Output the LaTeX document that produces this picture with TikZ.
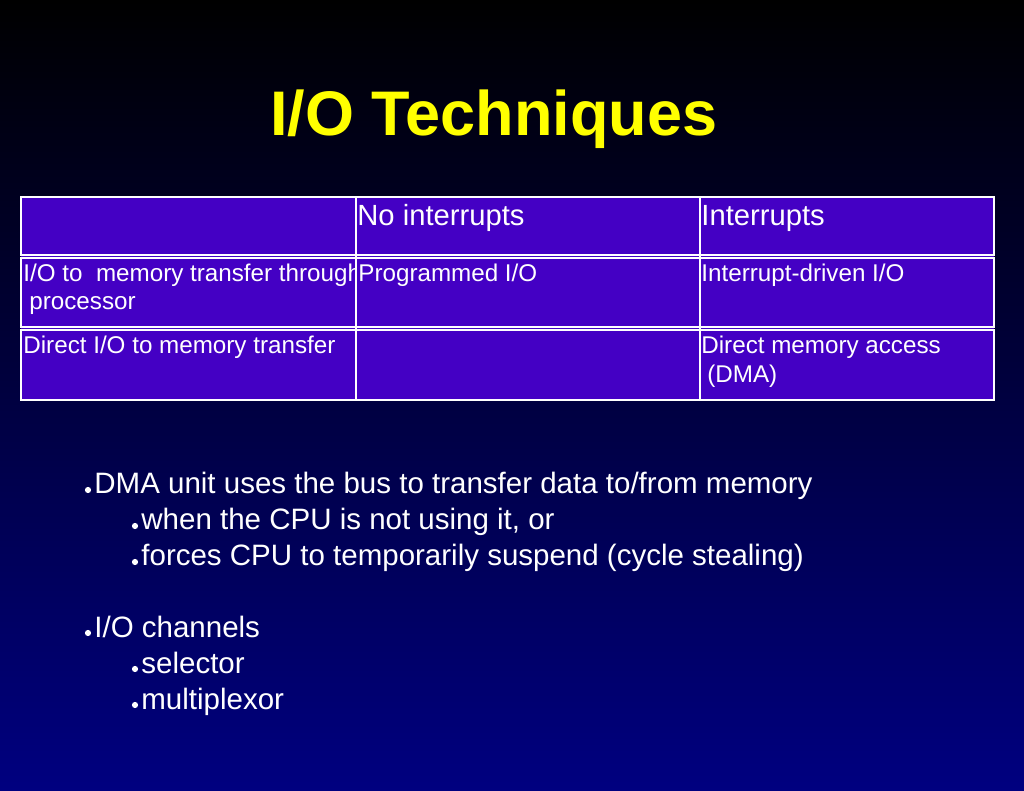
\documentclass[tikz,border=0pt]{standalone}
\usepackage{fontspec}
\setmainfont{Liberation Sans}
\definecolor{navybg}{RGB}{0,0,128}
\definecolor{cellfill}{RGB}{68,0,196}
\definecolor{titleyellow}{RGB}{255,255,0}
\begin{document}
\begin{tikzpicture}[x=0.5pt,y=-0.5pt,
  txt/.style={anchor=base west, inner sep=0pt, text=white, font=\fontsize{12.1}{14}\selectfont},
  hdr/.style={txt, font=\fontsize{14.6}{17}\selectfont},
  bul/.style={txt, font=\fontsize{14.75}{17}\selectfont},
  gridline/.style={draw=white, line width=1pt},
  bdot/.style={circle, fill=white, inner sep=0pt, minimum size=3.1pt}]
\useasboundingbox (0,0) rectangle (1024,791);
\shade[top color=black, bottom color=navybg] (0,0) rectangle (1024,791);

% title
\node[anchor=base west, inner sep=0pt, text=titleyellow,
      font=\fontsize{31.5}{36}\selectfont\bfseries] (title) at (270,136) {I/O Techniques};

% table
\fill[cellfill] (21,197) rectangle (994,400);

\node[hdr] (h1) at (357,226) {No interrupts};
\node[hdr] (h2) at (701,226) {Interrupts};

\begin{scope}
  \clip (21,258) rectangle (355,327);
  \node[txt] (r2a) at (23,282) {I/O to\ \ memory transfer through};
\end{scope}
\node[txt] (r2b) at (29,310) {processor};
\node[txt] (r2c) at (358,282) {Programmed I/O};
\node[txt] (r2d) at (701,282) {Interrupt-driven I/O};

\node[txt] (r3a) at (23,354) {Direct I/O to memory transfer};
\node[txt] (r3b) at (701,354) {Direct memory access};
\node[txt] (r3c) at (707,383) {(DMA)};

\draw[gridline] (21,197) rectangle (994,255);
\draw[gridline] (21,258) rectangle (994,327);
\draw[gridline] (21,330) rectangle (994,400);
\draw[gridline] (356,197) -- (356,400);
\draw[gridline] (700,197) -- (700,400);

% bullets
\node[bdot] (d1) at (88,490) {};
\node[bul] (b1) at (94,494) {DMA unit uses the bus to transfer data to/from memory};
\node[bdot] (d2) at (135,526) {};
\node[bul] (b2) at (141,530) {when the CPU is not using it, or};
\node[bdot] (d3) at (135,562) {};
\node[bul] (b3) at (141,566) {forces CPU to temporarily suspend (cycle stealing)};
\node[bdot] (d4) at (88,633) {};
\node[bul] (b4) at (94,637) {I/O channels};
\node[bdot] (d5) at (135,669) {};
\node[bul] (b5) at (141,673) {selector};
\node[bdot] (d6) at (135,705) {};
\node[bul] (b6) at (141,709) {multiplexor};
\end{tikzpicture}
\end{document}
